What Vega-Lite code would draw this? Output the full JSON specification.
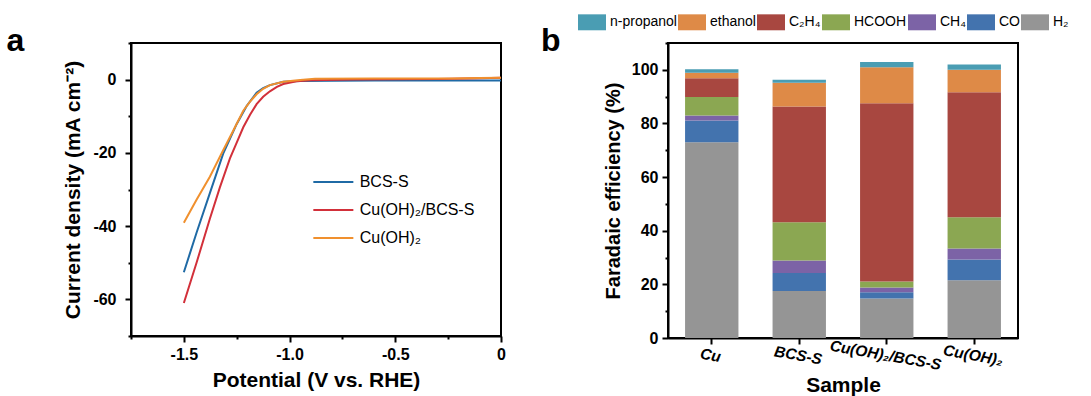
{
 "$schema": "https://vega.github.io/schema/vega-lite/v6.json",
 "padding": {"left": 5, "top": 7, "right": 0, "bottom": 0},
 "config": {
  "font": "Liberation Sans",
  "view": {"stroke": "black", "strokeWidth": 2},
  "axis": {"grid": false, "domainColor": "black", "domainWidth": 2, "tickColor": "black", "tickWidth": 2,
   "labelColor": "black", "titleColor": "black", "labelFont": "Liberation Sans", "titleFont": "Liberation Sans",
   "labelFontWeight": "bold", "titleFontWeight": "bold", "labelFontSize": 16, "titleFontSize": 21},
  "legend": {"padding": 0, "labelColor": "black", "labelFont": "Liberation Sans"}
 },
 "spacing": 15,
 "resolve": {"scale": {"color": "independent"}, "legend": {"color": "independent"}},
 "hconcat": [
  {
   "width": 370, "height": 293,
   "data": {"values": [
    {"sample": "BCS-S", "potential": -1.5, "current": -52.6},
    {"sample": "BCS-S", "potential": -1.44, "current": -41.8},
    {"sample": "BCS-S", "potential": -1.377, "current": -31},
    {"sample": "BCS-S", "potential": -1.314, "current": -20.2},
    {"sample": "BCS-S", "potential": -1.25, "current": -12.1},
    {"sample": "BCS-S", "potential": -1.203, "current": -7.2},
    {"sample": "BCS-S", "potential": -1.156, "current": -3.6},
    {"sample": "BCS-S", "potential": -1.125, "current": -2.3},
    {"sample": "BCS-S", "potential": -1.093, "current": -1.5},
    {"sample": "BCS-S", "potential": -1.03, "current": -0.6},
    {"sample": "BCS-S", "potential": -0.95, "current": -0.35},
    {"sample": "BCS-S", "potential": -0.8, "current": -0.3},
    {"sample": "BCS-S", "potential": -0.6, "current": -0.25},
    {"sample": "BCS-S", "potential": -0.4, "current": -0.25},
    {"sample": "BCS-S", "potential": -0.2, "current": -0.25},
    {"sample": "BCS-S", "potential": 0, "current": -0.25},
    {"sample": "Cu(OH)₂/BCS-S", "potential": -1.5, "current": -61},
    {"sample": "Cu(OH)₂/BCS-S", "potential": -1.44, "current": -50},
    {"sample": "Cu(OH)₂/BCS-S", "potential": -1.377, "current": -38},
    {"sample": "Cu(OH)₂/BCS-S", "potential": -1.33, "current": -29.5},
    {"sample": "Cu(OH)₂/BCS-S", "potential": -1.282, "current": -21.5},
    {"sample": "Cu(OH)₂/BCS-S", "potential": -1.25, "current": -17.2},
    {"sample": "Cu(OH)₂/BCS-S", "potential": -1.219, "current": -13},
    {"sample": "Cu(OH)₂/BCS-S", "potential": -1.187, "current": -9.6},
    {"sample": "Cu(OH)₂/BCS-S", "potential": -1.156, "current": -6.7},
    {"sample": "Cu(OH)₂/BCS-S", "potential": -1.125, "current": -4.7},
    {"sample": "Cu(OH)₂/BCS-S", "potential": -1.093, "current": -3.2},
    {"sample": "Cu(OH)₂/BCS-S", "potential": -1.06, "current": -2.0},
    {"sample": "Cu(OH)₂/BCS-S", "potential": -1.03, "current": -1.2},
    {"sample": "Cu(OH)₂/BCS-S", "potential": -0.967, "current": -0.45},
    {"sample": "Cu(OH)₂/BCS-S", "potential": -0.9, "current": -0.2},
    {"sample": "Cu(OH)₂/BCS-S", "potential": -0.7, "current": 0},
    {"sample": "Cu(OH)₂/BCS-S", "potential": -0.5, "current": 0.1},
    {"sample": "Cu(OH)₂/BCS-S", "potential": -0.3, "current": 0.2},
    {"sample": "Cu(OH)₂/BCS-S", "potential": -0.1, "current": 0.35},
    {"sample": "Cu(OH)₂/BCS-S", "potential": 0, "current": 0.5},
    {"sample": "Cu(OH)₂", "potential": -1.5, "current": -39.1},
    {"sample": "Cu(OH)₂", "potential": -1.44, "current": -32.8},
    {"sample": "Cu(OH)₂", "potential": -1.377, "current": -26.5},
    {"sample": "Cu(OH)₂", "potential": -1.314, "current": -19.3},
    {"sample": "Cu(OH)₂", "potential": -1.266, "current": -13.9},
    {"sample": "Cu(OH)₂", "potential": -1.219, "current": -8.5},
    {"sample": "Cu(OH)₂", "potential": -1.187, "current": -6.0},
    {"sample": "Cu(OH)₂", "potential": -1.156, "current": -4.0},
    {"sample": "Cu(OH)₂", "potential": -1.125, "current": -2.5},
    {"sample": "Cu(OH)₂", "potential": -1.093, "current": -1.5},
    {"sample": "Cu(OH)₂", "potential": -1.03, "current": -0.6},
    {"sample": "Cu(OH)₂", "potential": -0.95, "current": -0.1},
    {"sample": "Cu(OH)₂", "potential": -0.88, "current": 0.25},
    {"sample": "Cu(OH)₂", "potential": -0.6, "current": 0.3},
    {"sample": "Cu(OH)₂", "potential": -0.23, "current": 0.3},
    {"sample": "Cu(OH)₂", "potential": -0.1, "current": 0.45},
    {"sample": "Cu(OH)₂", "potential": 0, "current": 0.5}
   ]},
   "layer": [
    {
     "mark": {"type": "line", "strokeWidth": 2, "clip": true},
     "encoding": {
      "x": {"field": "potential", "type": "quantitative",
       "scale": {"domain": [-1.75, 0], "nice": false, "zero": false},
       "axis": {"title": "Potential (V vs. RHE)", "values": [-1.75, -1.5, -1.25, -1, -0.75, -0.5, -0.25, 0],
        "labelExpr": "abs(datum.value*2 - round(datum.value*2)) > 0.01 ? '' : (datum.value == 0 ? '0' : replace(format(datum.value, '.1f'), '−', '-'))",
        "tickSize": {"condition": {"test": "abs(datum.value*2 - round(datum.value*2)) > 0.01", "value": 3}, "value": 6},
        "labelFlush": false, "labelOverlap": false, "labelPadding": 4, "titlePadding": 7}},
      "y": {"field": "current", "type": "quantitative",
       "scale": {"domain": [-70, 10], "nice": false, "zero": false},
       "axis": {"title": "Current density (mA cm⁻²)", "values": [-70, -60, -50, -40, -30, -20, -10, 0, 10],
        "labelExpr": "abs(datum.value % 20) < 0.01 ? replace(format(datum.value, 'd'), '−', '-') : ''",
        "tickSize": {"condition": {"test": "abs(datum.value % 20) > 0.01", "value": 3}, "value": 6},
        "labelFlush": false, "labelOverlap": false, "labelPadding": 9, "titlePadding": 9}},
      "color": {"field": "sample", "type": "nominal",
       "scale": {"domain": ["BCS-S", "Cu(OH)₂/BCS-S", "Cu(OH)₂"], "range": ["#1f6aa5", "#d2303a", "#f0902e"]},
       "legend": {"title": null, "orient": "none", "legendX": 181, "legendY": 131, "direction": "vertical",
        "symbolType": "M-1,0H5", "symbolSize": 178, "symbolStrokeWidth": 2, "labelOffset": 31.7,
        "labelFontSize": 16, "labelFontWeight": "normal", "rowPadding": 12}}
     }
    },
    {
     "data": {"values": [{}]},
     "mark": {"type": "text", "fontSize": 32, "fontWeight": "bold", "align": "center", "baseline": "alphabetic", "color": "black", "font": "Liberation Sans"},
     "encoding": {
      "x": {"datum": -2.297, "type": "quantitative",
       "scale": {"domain": [-1.75, 0], "nice": false, "zero": false},
       "axis": {"title": "Potential (V vs. RHE)", "values": [-1.75, -1.5, -1.25, -1, -0.75, -0.5, -0.25, 0],
        "labelExpr": "abs(datum.value*2 - round(datum.value*2)) > 0.01 ? '' : (datum.value == 0 ? '0' : replace(format(datum.value, '.1f'), '−', '-'))",
        "tickSize": {"condition": {"test": "abs(datum.value*2 - round(datum.value*2)) > 0.01", "value": 3}, "value": 6},
        "labelFlush": false, "labelOverlap": false, "labelPadding": 4, "titlePadding": 7}},
      "y": {"datum": 7.9, "type": "quantitative",
       "scale": {"domain": [-70, 10], "nice": false, "zero": false},
       "axis": {"title": "Current density (mA cm⁻²)", "values": [-70, -60, -50, -40, -30, -20, -10, 0, 10],
        "labelExpr": "abs(datum.value % 20) < 0.01 ? replace(format(datum.value, 'd'), '−', '-') : ''",
        "tickSize": {"condition": {"test": "abs(datum.value % 20) > 0.01", "value": 3}, "value": 6},
        "labelFlush": false, "labelOverlap": false, "labelPadding": 9, "titlePadding": 9}},
      "text": {"value": "a"}
     }
    },
    {
     "data": {"values": [{}]},
     "mark": {"type": "text", "fontSize": 32, "fontWeight": "bold", "align": "center", "baseline": "alphabetic", "color": "black", "font": "Liberation Sans"},
     "encoding": {
      "x": {"datum": 0.235, "type": "quantitative",
       "scale": {"domain": [-1.75, 0], "nice": false, "zero": false},
       "axis": {"title": "Potential (V vs. RHE)", "values": [-1.75, -1.5, -1.25, -1, -0.75, -0.5, -0.25, 0],
        "labelExpr": "abs(datum.value*2 - round(datum.value*2)) > 0.01 ? '' : (datum.value == 0 ? '0' : replace(format(datum.value, '.1f'), '−', '-'))",
        "tickSize": {"condition": {"test": "abs(datum.value*2 - round(datum.value*2)) > 0.01", "value": 3}, "value": 6},
        "labelFlush": false, "labelOverlap": false, "labelPadding": 4, "titlePadding": 7}},
      "y": {"datum": 7.9, "type": "quantitative",
       "scale": {"domain": [-70, 10], "nice": false, "zero": false},
       "axis": {"title": "Current density (mA cm⁻²)", "values": [-70, -60, -50, -40, -30, -20, -10, 0, 10],
        "labelExpr": "abs(datum.value % 20) < 0.01 ? replace(format(datum.value, 'd'), '−', '-') : ''",
        "tickSize": {"condition": {"test": "abs(datum.value % 20) > 0.01", "value": 3}, "value": 6},
        "labelFlush": false, "labelOverlap": false, "labelPadding": 9, "titlePadding": 9}},
      "text": {"value": "b"}
     }
    }
   ]
  },
  {
   "width": 350, "height": 295,
   "data": {"values": [
    {"sample": "Cu", "product": "H₂", "fe": 73},
    {"sample": "Cu", "product": "CO", "fe": 8.1},
    {"sample": "Cu", "product": "CH₄", "fe": 1.9},
    {"sample": "Cu", "product": "HCOOH", "fe": 6.9},
    {"sample": "Cu", "product": "C₂H₄", "fe": 7.0},
    {"sample": "Cu", "product": "ethanol", "fe": 2.0},
    {"sample": "Cu", "product": "n-propanol", "fe": 1.3},
    {"sample": "BCS-S", "product": "H₂", "fe": 17.5},
    {"sample": "BCS-S", "product": "CO", "fe": 6.7},
    {"sample": "BCS-S", "product": "CH₄", "fe": 4.7},
    {"sample": "BCS-S", "product": "HCOOH", "fe": 14.3},
    {"sample": "BCS-S", "product": "C₂H₄", "fe": 43.1},
    {"sample": "BCS-S", "product": "ethanol", "fe": 8.9},
    {"sample": "BCS-S", "product": "n-propanol", "fe": 1.1},
    {"sample": "Cu(OH)₂/BCS-S", "product": "H₂", "fe": 14.7},
    {"sample": "Cu(OH)₂/BCS-S", "product": "CO", "fe": 2.4},
    {"sample": "Cu(OH)₂/BCS-S", "product": "CH₄", "fe": 1.7},
    {"sample": "Cu(OH)₂/BCS-S", "product": "HCOOH", "fe": 2.3},
    {"sample": "Cu(OH)₂/BCS-S", "product": "C₂H₄", "fe": 66.4},
    {"sample": "Cu(OH)₂/BCS-S", "product": "ethanol", "fe": 13.5},
    {"sample": "Cu(OH)₂/BCS-S", "product": "n-propanol", "fe": 1.9},
    {"sample": "Cu(OH)₂", "product": "H₂", "fe": 21.5},
    {"sample": "Cu(OH)₂", "product": "CO", "fe": 7.8},
    {"sample": "Cu(OH)₂", "product": "CH₄", "fe": 4.1},
    {"sample": "Cu(OH)₂", "product": "HCOOH", "fe": 11.6},
    {"sample": "Cu(OH)₂", "product": "C₂H₄", "fe": 46.6},
    {"sample": "Cu(OH)₂", "product": "ethanol", "fe": 8.4},
    {"sample": "Cu(OH)₂", "product": "n-propanol", "fe": 2.0}
   ]},
   "transform": [{"calculate": "indexof(['n-propanol','ethanol','C₂H₄','HCOOH','CH₄','CO','H₂'], datum.product)", "as": "ord"}],
   "mark": {"type": "bar"},
   "encoding": {
    "x": {"field": "sample", "type": "nominal", "sort": null,
     "scale": {"paddingInner": 0.39, "paddingOuter": 0.195},
     "axis": {"title": "Sample", "labelAngle": 10, "labelAlign": "center", "labelBaseline": "top",
      "labelFontStyle": "italic", "labelFontSize": 15.5, "tickSize": 6, "labelPadding": 4, "titlePadding": 1, "labelOverlap": false}},
    "y": {"field": "fe", "type": "quantitative", "stack": "zero",
     "scale": {"domain": [0, 110], "nice": false},
     "axis": {"title": "Faradaic efficiency (%)", "titleFontSize": 20, "values": [0, 10, 20, 30, 40, 50, 60, 70, 80, 90, 100, 110],
      "labelExpr": "datum.value % 20 == 0 ? datum.value : ''",
      "tickSize": {"condition": {"test": "datum.value % 20 != 0", "value": 3}, "value": 6},
      "labelFlush": false, "labelOverlap": false, "labelPadding": 4, "titlePadding": 8}},
    "color": {"field": "product", "type": "nominal",
     "scale": {"domain": ["n-propanol", "ethanol", "C₂H₄", "HCOOH", "CH₄", "CO", "H₂"],
      "range": ["#4a9db3", "#de8a47", "#a84740", "#8ba752", "#7c63a6", "#4373ae", "#959595"]},
     "legend": {"title": null, "orient": "none", "direction": "horizontal", "legendX": -90, "legendY": -34.7,
      "symbolType": "M-1,-0.57H1V0.57H-1Z", "symbolSize": 784, "symbolStrokeWidth": 0, "symbolOpacity": 1,
      "labelFontSize": 14, "labelOffset": 4, "columnPadding": 1}},
    "order": {"field": "ord", "type": "quantitative", "sort": "descending"}
   }
  }
 ]
}
